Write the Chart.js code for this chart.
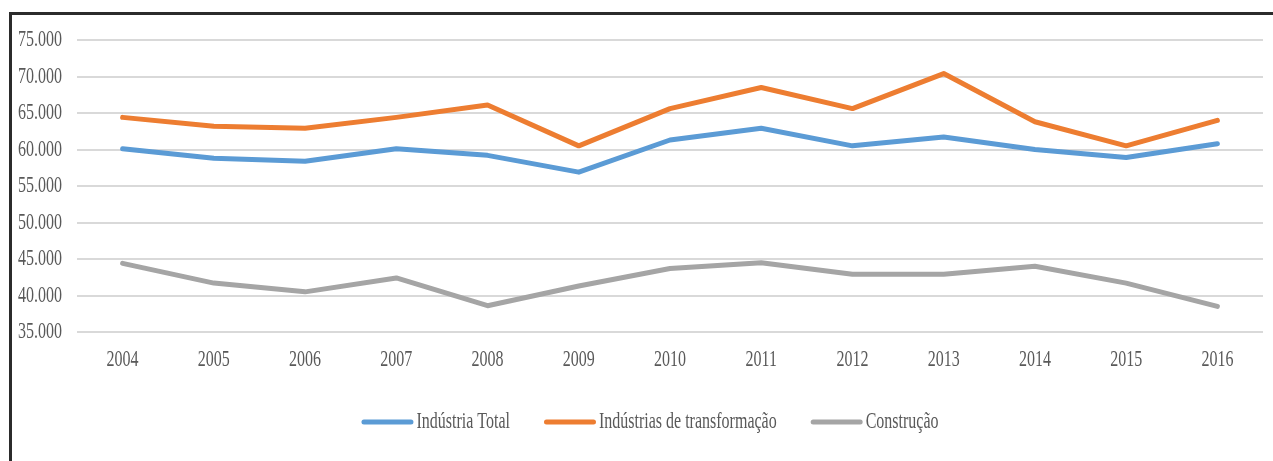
<!DOCTYPE html>
<html>
<head>
<meta charset="utf-8">
<script src="https://cdn.jsdelivr.net/npm/chart.js@4.4.1/dist/chart.umd.min.js"></script>
<style>
  html, body { margin: 0; padding: 0; background: #fff; }
  #wrap { position: relative; width: 1273px; height: 461px; overflow: hidden; }
  #frame { position: absolute; left: 9px; top: 12px; width: 1300px; height: 500px;
           border-top: 3px solid #2b2b2b; border-left: 3px solid #2b2b2b; }
  #myChart { position: absolute; left: 0; top: 0; }
</style>
</head>
<body>
<div id="wrap">
  <div id="frame"></div>
  <canvas id="myChart" width="1273" height="461"></canvas>
</div>
<script>
// dados
const years = ['2004', '2005', '2006', '2007', '2008', '2009', '2010', '2011', '2012', '2013', '2014', '2015', '2016'];
const industriaTotal = [60100, 58800, 58400, 60100, 59200, 56900, 61300, 62900, 60500, 61700, 60000, 58900, 60800];
const transformacao = [64400, 63200, 62900, 64400, 66100, 60500, 65600, 68500, 65600, 70400, 63800, 60500, 64000];
const construcao = [44400, 41700, 40500, 42400, 38600, 41300, 43700, 44500, 42900, 42900, 44000, 41700, 38500];
const yTicks = [35000, 40000, 45000, 50000, 55000, 60000, 65000, 70000, 75000];

const FONT = "16px 'Liberation Serif', 'Times New Roman', serif";
const TEXT = '#595959';
const STRETCH = 1.45;   // o texto do original é alto e estreito

function fmt(v) {
    return String(v).replace(/\B(?=(\d{3})+(?!\d))/g, '.');
}

function tallText(c, txt, x, y, align) {
    c.save();
    c.translate(x, y);
    c.scale(1, STRETCH);
    c.font = FONT;
    c.fillStyle = TEXT;
    c.textAlign = align;
    c.textBaseline = 'middle';
    c.fillText(txt, 0, 0);
    c.restore();
}

// rótulos dos eixos e legenda desenhados com o texto esticado
let labelsPlugin = {
    id: 'tallLabels',
    afterDraw: function(chart) {
        let c = chart.ctx;
        let ys = chart.scales.y;
        let xs = chart.scales.x;

        ys.ticks.forEach(function(t) {
            tallText(c, fmt(t.value), ys.right - 15, ys.getPixelForValue(t.value), 'right');
        });
        xs.ticks.forEach(function(t, i) {
            tallText(c, xs.getLabelForValue(t.value), xs.getPixelForTick(i), chart.chartArea.bottom + 28, 'center');
        });

        // legenda
        c.save();
        c.font = FONT;
        let boxW = 52, gap = 3, spacing = 34;
        let items = chart.data.datasets.map(function(ds) {
            return { text: ds.label, color: ds.borderColor, w: boxW + gap + c.measureText(ds.label).width };
        });
        c.restore();
        let total = items.reduce((s, it) => s + it.w, 0) + spacing * (items.length - 1);
        let x = 650 - total / 2;
        let y = 422;
        items.forEach(function(it) {
            c.save();
            c.strokeStyle = it.color;
            c.lineWidth = 5;
            c.lineCap = 'round';
            c.beginPath();
            c.moveTo(x + 2.5, y);
            c.lineTo(x + boxW - 2.5, y);
            c.stroke();
            c.restore();
            tallText(c, it.text, x + boxW + gap, y, 'left');
            x += it.w + spacing;
        });
    }
};

let ctx = document.getElementById('myChart').getContext('2d');

let lineStyle = {
    borderWidth: 5,
    pointRadius: 0,
    pointHoverRadius: 0,
    tension: 0,
    borderCapStyle: 'round',
    borderJoinStyle: 'round',
    fill: false
};

var myChart = new Chart(ctx, {
    type: 'line',
    data: {
        labels: years,
        datasets: [
            Object.assign({ label: 'Indústria Total', data: industriaTotal, borderColor: '#5b9bd5', backgroundColor: '#5b9bd5' }, lineStyle),
            Object.assign({ label: 'Indústrias de transformação', data: transformacao, borderColor: '#ed7d31', backgroundColor: '#ed7d31' }, lineStyle),
            Object.assign({ label: 'Construção', data: construcao, borderColor: '#a5a5a5', backgroundColor: '#a5a5a5' }, lineStyle)
        ]
    },
    options: {
        responsive: false,
        animation: false,
        layout: { padding: { left: 0, right: 10, top: 40, bottom: 89 } },
        plugins: {
            tooltip: { enabled: false },
            legend: { display: false }
        },
        scales: {
            x: {
                offset: true,
                grid: { display: false },
                border: { display: false },
                ticks: { display: false },
                afterFit: function(s) { s.height = 40; }
            },
            y: {
                min: 35000,
                max: 75000,
                grid: { color: '#d9d9d9', lineWidth: 2, drawTicks: false },
                border: { display: false },
                afterBuildTicks: function(s) { s.ticks = yTicks.map(v => ({ value: v })); },
                ticks: { display: false },
                afterFit: function(s) { s.width = 77; }
            }
        }
    },
    plugins: [labelsPlugin]
});
</script>
</body>
</html>
